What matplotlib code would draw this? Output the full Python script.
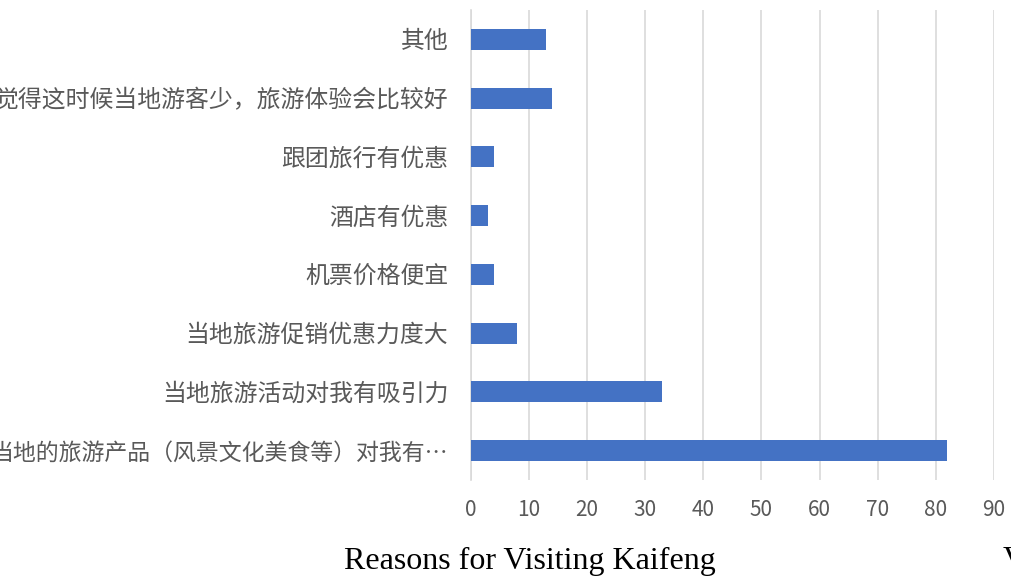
import matplotlib
matplotlib.use("Agg")
import matplotlib.pyplot as plt

# Survey responses: reasons for visiting Kaifeng (bottom to top)
categories = [
    "当地的旅游产品（风景文化美食等）对我有…",
    "当地旅游活动对我有吸引力",
    "当地旅游促销优惠力度大",
    "机票价格便宜",
    "酒店有优惠",
    "跟团旅行有优惠",
    "觉得这时候当地游客少，旅游体验会比较好",
    "其他",
]
counts = [82, 33, 8, 4, 3, 4, 14, 13]
x_ticks = [0, 10, 20, 30, 40, 50, 60, 70, 80, 90]

plt.rcParams["font.family"] = ["Noto Sans CJK SC", "DejaVu Sans"]

W, H = 1011, 578
fig = plt.figure(figsize=(W / 100, H / 100), dpi=100)
ax = fig.add_axes([470.5 / W, 1 - 480 / H, (994 - 470.5) / W, 470 / H])

ypos = list(range(len(categories)))
ax.barh(ypos, counts, height=0.355, color="#4472C4", zorder=3)

ax.set_xlim(0, 90)
ax.set_ylim(-0.5, len(categories) - 0.5)
ax.set_xticks(x_ticks)
ax.set_yticks(ypos)
ylabels = ax.set_yticklabels(categories, fontsize=17.2)
# the long truncated label is set a touch smaller so its first character stays in view
ylabels[0].set_fontsize(16.5)
ax.set_xticklabels([str(t) for t in x_ticks], fontsize=15)
ax.grid(axis="x", color="#D9D9D9", linewidth=1.2, zorder=0)
ax.tick_params(axis="both", length=0, colors="#595959")
ax.tick_params(axis="y", pad=16)
ax.tick_params(axis="x", pad=14)
for s in ["top", "right", "bottom"]:
    ax.spines[s].set_visible(False)
ax.spines["left"].set_color("#D9D9D9")
ax.spines["left"].set_linewidth(1.2)

fig.text(530 / W, 1 - 561 / H, "Reasons for Visiting Kaifeng",
         family="Liberation Serif", fontsize=23, color="black",
         ha="center", va="center")
fig.text(1003 / W, 1 - 561 / H, "V",
         family="Liberation Serif", fontsize=23, color="black",
         ha="left", va="center")

fig.savefig("out.png", dpi=100)
